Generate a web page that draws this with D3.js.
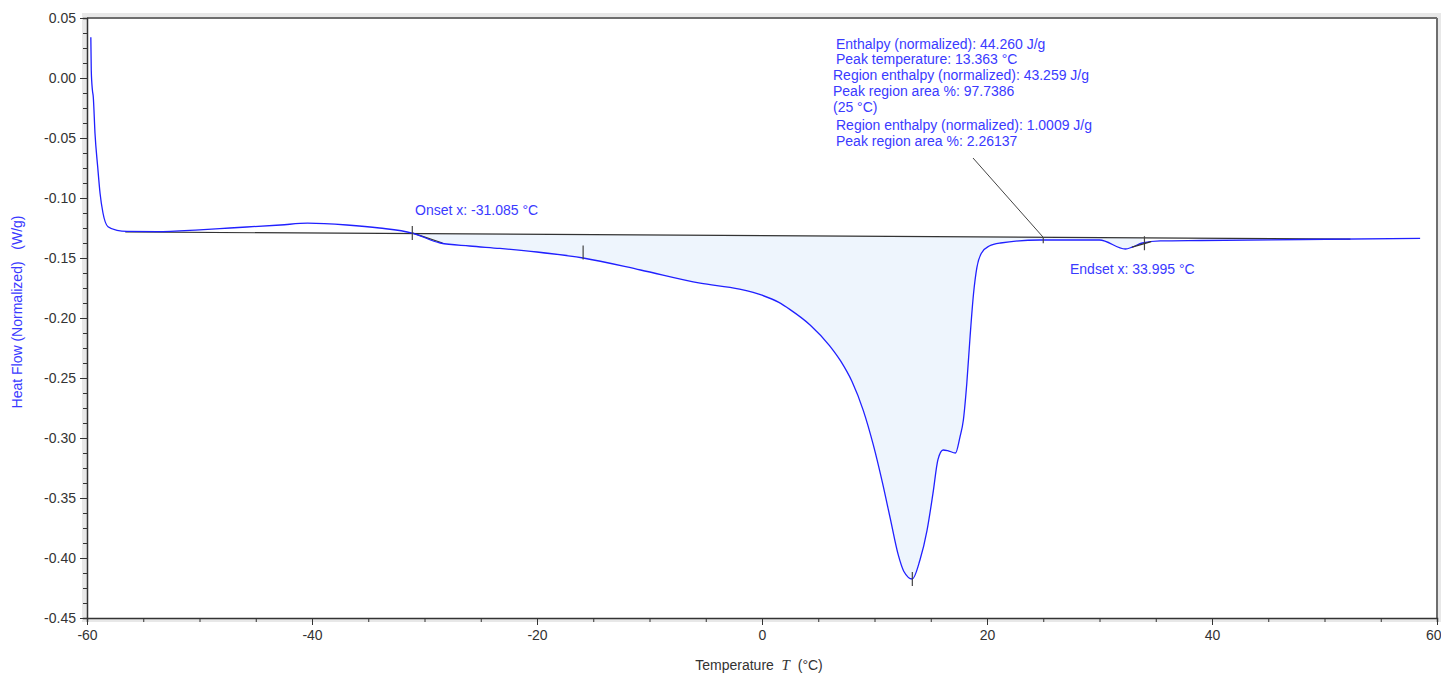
<!DOCTYPE html>
<html><head><meta charset="utf-8">
<script src="https://cdn.jsdelivr.net/npm/d3@7"></script>
<style>body{margin:0;background:#fff;font-family:"Liberation Sans",Arial,sans-serif;}</style>
</head><body><svg id="c" width="1441" height="675"></svg>
<script>
const temperature = [-59.66,-59.62,-59.52,-59.44,-59.29,-59.05,-58.84,-58.58,-58.13,-57.33,-56.44,-53.8,-50.0,-47.3,-42.8,-40.4,-36.9,-34.0,-31.1,-28.6,-26.0,-23.3,-20.0,-15.9,-10.8,-5.5,-2.0,0.0,1.5,2.5,4.3,6.0,7.0,8.0,9.0,9.9,10.7,11.4,12.1,12.6,13.36,14.04,14.67,15.2,15.64,16.1,16.5,17.2,17.6,17.9,18.2,18.5,18.8,19.1,19.5,20.2,21.2,24.7,30.0,32.3,32.9,33.8,35.4,39.0,48.0,58.5];
const heatFlow = [0.034,0.006,-0.010,-0.016,-0.046,-0.074,-0.096,-0.1125,-0.124,-0.127,-0.1278,-0.128,-0.1265,-0.125,-0.1225,-0.121,-0.1225,-0.125,-0.1292,-0.1375,-0.140,-0.142,-0.145,-0.150,-0.160,-0.171,-0.176,-0.181,-0.187,-0.193,-0.206,-0.223,-0.236,-0.253,-0.277,-0.306,-0.337,-0.367,-0.397,-0.411,-0.4175,-0.4017,-0.377,-0.346,-0.318,-0.310,-0.3105,-0.3125,-0.299,-0.285,-0.255,-0.215,-0.180,-0.158,-0.146,-0.140,-0.1375,-0.135,-0.135,-0.1425,-0.141,-0.1375,-0.1358,-0.1354,-0.1346,-0.1337];
const baselineT = [-56.6, 52.3];
const baselineV = [-0.1283, -0.1343];
const fillRange = [-31.085, 33.995];
const onsetTangentT = [-31.085, -28.4];
const onsetTangentV = [-0.1291, -0.1375];
const markerT = [-31.085, -15.9, 13.363, 25, 33.995];
const markerV = [-0.1292, -0.1455, -0.4175, -0.1355, -0.1377];
const markerLen = [14, 14, 14, 6, 14];
const xTicks = [-60,-40,-20,0,20,40,60];
const yTicks = [0.05,0.00,-0.05,-0.10,-0.15,-0.20,-0.25,-0.30,-0.35,-0.40,-0.45];
const annotationLines = ["Enthalpy (normalized): 44.260 J/g","Peak temperature: 13.363 °C","Region enthalpy (normalized): 43.259 J/g","Peak region area %: 97.7386","(25 °C)","Region enthalpy (normalized): 1.0009 J/g","Peak region area %: 2.26137"];
const annotationIndent = [3,3,0,0,0,3,3];
const onsetLabel = "Onset x: -31.085 °C";
const endsetLabel = "Endset x: 33.995 °C";

const svg = d3.select("#c");
const L=87, T=18, R=1437, B=618;
const x = d3.scaleLinear().domain([-60,60]).range([L,R]);
const y = d3.scaleLinear().domain([-0.45,0.05]).range([B,T]);
const blue = "#2020ff", textBlue = "#3a3aff";
const FONT = "Liberation Sans, Arial, sans-serif";
const hy = s => s.replace("\u2212","-");

// frame shading
svg.append("rect").attr("x",L-5).attr("y",T-5).attr("width",R-L+9).attr("height",B-T+9).attr("fill","#e8e8e8");
svg.append("rect").attr("x",L).attr("y",T).attr("width",R-L).attr("height",B-T).attr("fill","#fff");

const pts = temperature.map((t,i)=>({t,v:heatFlow[i]}));
const base = d3.scaleLinear().domain(baselineT).range(baselineV);

// fill
const fillPts = pts.filter(p=>p.t>=fillRange[0]-0.05 && p.t<=fillRange[1]+0.2);
fillPts[0] = {t:fillRange[0], v:base(fillRange[0])};
svg.append("path").datum(fillPts)
  .attr("d", d3.area().x(d=>x(d.t)).y0(d=>y(base(d.t))).y1(d=>y(d.v)).curve(d3.curveMonotoneX))
  .attr("fill","#eef5fd");

// baseline
svg.append("line").attr("x1",x(baselineT[0])).attr("y1",y(baselineV[0])).attr("x2",x(baselineT[1])).attr("y2",y(baselineV[1]))
  .attr("stroke","#333").attr("stroke-width",1.2);
// onset tangent
svg.append("line").attr("x1",x(onsetTangentT[0])).attr("y1",y(onsetTangentV[0])).attr("x2",x(onsetTangentT[1])).attr("y2",y(onsetTangentV[1]))
  .attr("stroke","#333").attr("stroke-width",1.3);

// curve
svg.append("path").datum(pts)
  .attr("d", d3.line().x(d=>x(d.t)).y(d=>y(d.v)).curve(d3.curveMonotoneX))
  .attr("fill","none").attr("stroke",blue).attr("stroke-width",1.3);

// markers
markerT.forEach((t,i)=>{
  const cy = y(markerV[i]); const h = markerLen[i]/2;
  svg.append("line").attr("x1",x(t)).attr("x2",x(t))
    .attr("y1", i===3 ? y(base(t)) : cy-h).attr("y2", i===3 ? y(base(t))+markerLen[i] : cy+h)
    .attr("stroke","#444").attr("stroke-width",1.2);
});
// endset small tangent
svg.append("line").attr("x1",x(32.9)).attr("y1",y(-0.141)).attr("x2",x(34.6)).attr("y2",y(-0.1363)).attr("stroke","#333").attr("stroke-width",1.2);

// leader line
svg.append("line").attr("x1",973).attr("y1",158).attr("x2",x(25)).attr("y2",y(base(25)))
  .attr("stroke","#444").attr("stroke-width",1);

// frame top/right
svg.append("line").attr("x1",L).attr("x2",R).attr("y1",T).attr("y2",T).attr("stroke","#6e6e6e").attr("stroke-width",2);
svg.append("line").attr("x1",R).attr("x2",R).attr("y1",T).attr("y2",B).attr("stroke","#6e6e6e").attr("stroke-width",2);

// axes
const xAxis = svg.append("g").attr("transform",`translate(0,${B})`);
xAxis.call(d3.axisBottom(x).tickValues(d3.range(-60,61,5)).tickSize(4).tickFormat(""));
xAxis.call(g=>g.selectAll(".tick").filter(d=>xTicks.includes(d)).select("line").attr("y2",7));
xAxis.selectAll("path,line").attr("stroke","#333");
xAxis.select(".domain").attr("stroke-width",1.5);
const xl = svg.append("g").attr("transform",`translate(0,${B})`).call(d3.axisBottom(x).tickValues(xTicks).tickSize(0).tickPadding(12).tickFormat(d=>hy(d3.format("d")(d))));
xl.select(".domain").remove();
xl.selectAll("text").attr("font-family",FONT).attr("font-size",14).attr("fill","#333");
xl.selectAll(".tick").filter(d=>d===60).select("text").attr("text-anchor","end").attr("dx",4);

const yAxis = svg.append("g").attr("transform",`translate(${L},0)`);
yAxis.call(d3.axisLeft(y).tickValues(d3.range(0,41).map(i=>0.05-i*0.0125)).tickSize(4).tickFormat(""));
yAxis.call(g=>g.selectAll(".tick").filter((d,i)=>i%4===0).select("line").attr("x2",-7));
yAxis.selectAll("path,line").attr("stroke","#333");
yAxis.select(".domain").attr("stroke-width",1.5);
const yl = svg.append("g").attr("transform",`translate(${L},0)`).call(d3.axisLeft(y).tickValues(yTicks).tickSize(0).tickPadding(11).tickFormat(d=>hy(d3.format(".2f")(d))));
yl.select(".domain").remove();
yl.selectAll("text").attr("font-family",FONT).attr("font-size",14).attr("fill","#333");

// axis titles
svg.append("text").attr("transform","translate(22,312) rotate(-90)").attr("text-anchor","middle")
  .attr("font-size",14).attr("fill",textBlue).style("white-space","pre").text("Heat Flow (Normalized)   (W/g)");
const xt = svg.append("text").attr("x",759).attr("y",670).attr("text-anchor","middle").attr("font-size",14).attr("fill","#333").style("white-space","pre");
xt.append("tspan").text("Temperature  ");
xt.append("tspan").attr("font-family","Liberation Serif, serif").attr("font-style","italic").attr("font-size",15).text("T");
xt.append("tspan").text("  (°C)");

// annotations
const yPos = [49,64,80,96,112,130,146];
annotationLines.forEach((s,i)=>{
  svg.append("text").attr("x",833+annotationIndent[i]).attr("y",yPos[i]).attr("font-size",14).attr("fill",textBlue).text(s);
});
svg.append("text").attr("x",415).attr("y",215).attr("font-size",14).attr("fill",textBlue).text(onsetLabel);
svg.append("text").attr("x",1070).attr("y",274).attr("font-size",14).attr("fill",textBlue).text(endsetLabel);
</script></body></html>
